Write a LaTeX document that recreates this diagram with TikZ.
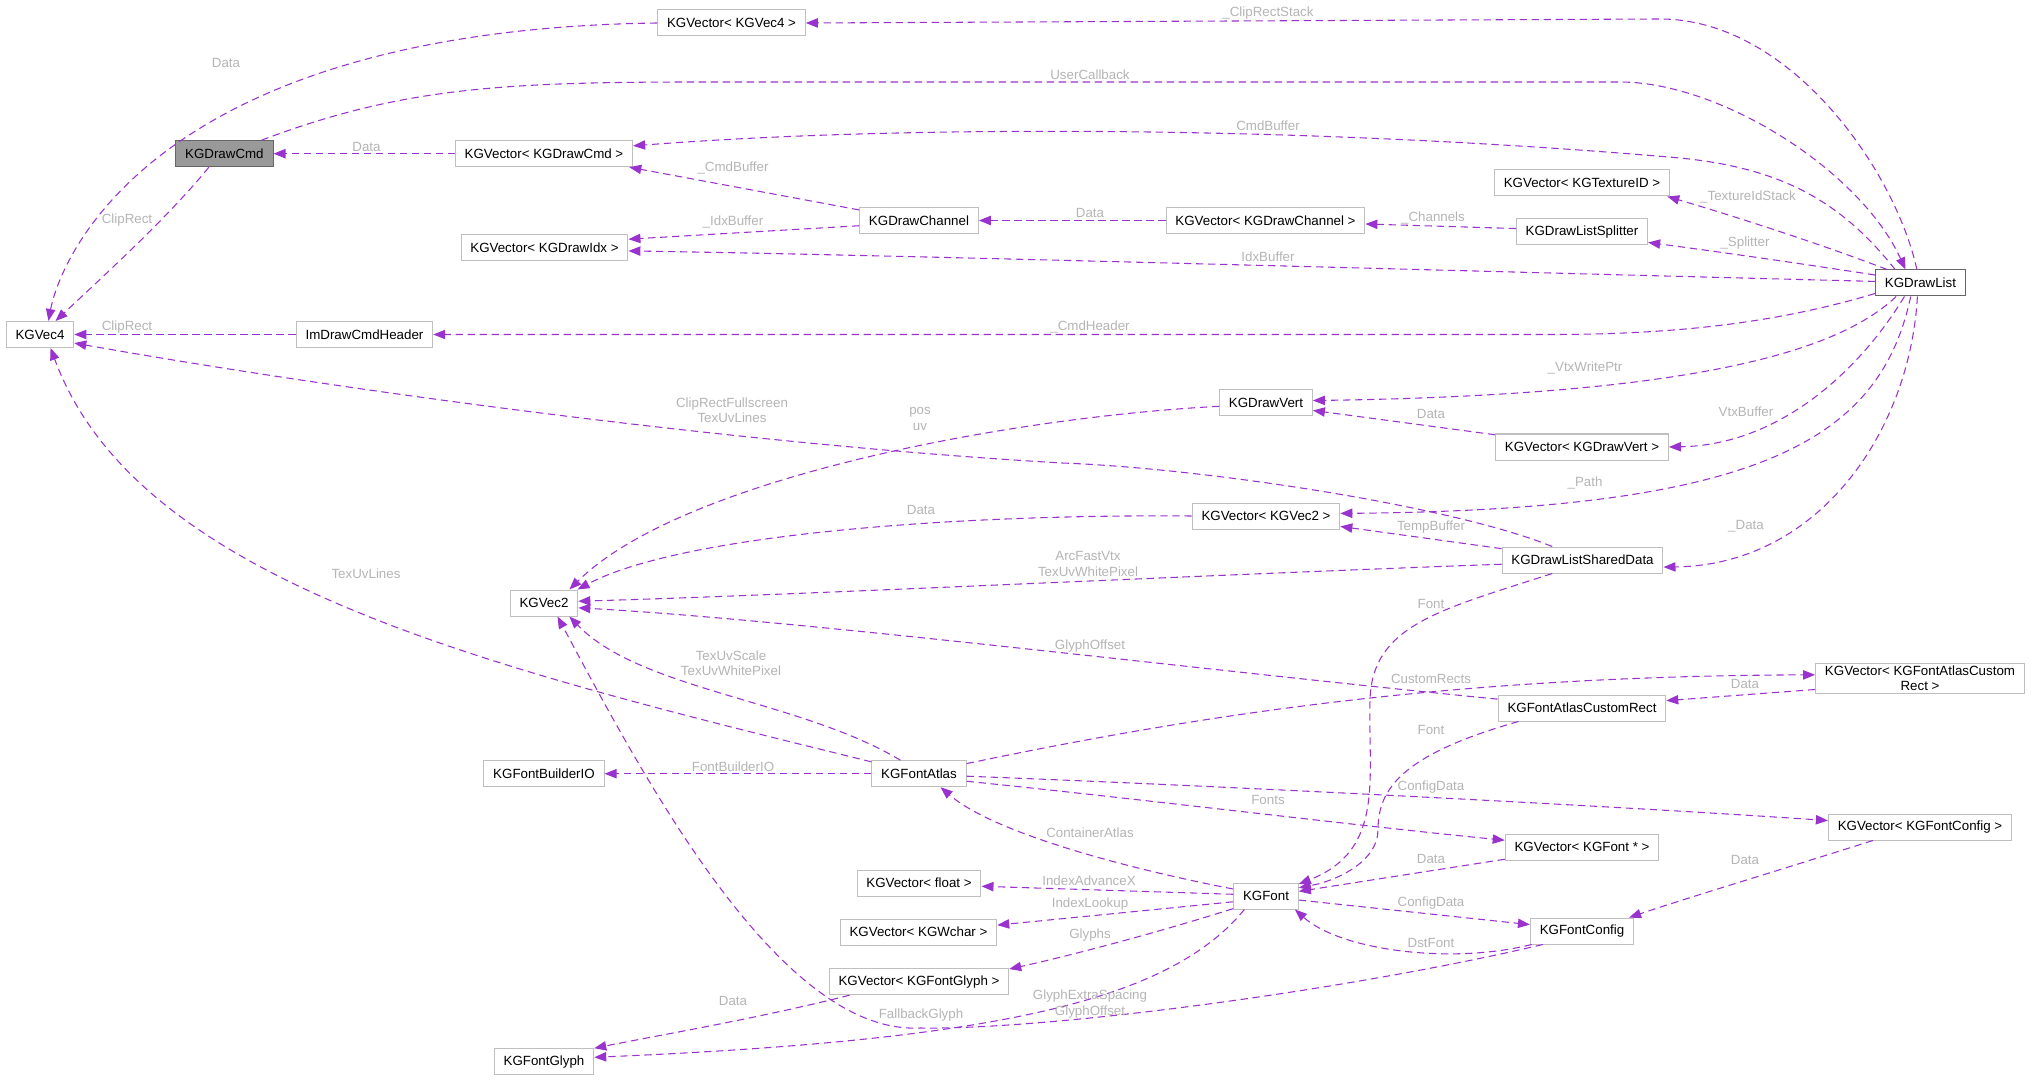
\documentclass[tikz,border=0pt]{standalone}
\usepackage{fontspec}
\setmainfont{Liberation Sans}
\usetikzlibrary{arrows.meta}
\definecolor{edgecol}{HTML}{9A32CD}
\definecolor{lblcol}{HTML}{B4B4B4}
\definecolor{boxcol}{HTML}{BFBFBF}
\definecolor{darkbox}{HTML}{666666}
\definecolor{focusfill}{HTML}{999999}
\tikzstyle{cls} = [rectangle, draw=boxcol, line width=0.75pt, fill=white, minimum height=19.5pt, inner xsep=7pt, inner ysep=2pt, align=center, text=black, font=\fontsize{10}{11.5}\selectfont]
\tikzstyle{focus} = [cls, draw=darkbox, fill=focusfill]
\tikzstyle{owner} = [cls, draw=darkbox]
\tikzstyle{lbl} = [text=lblcol, inner sep=0pt, align=center, font=\fontsize{10}{11.5}\selectfont]
\tikzstyle{uses} = [draw=edgecol, line width=0.8pt, dash pattern=on 5.5pt off 3.5pt, -{Triangle[length=9pt,width=7pt]}]

\begin{document}
\begin{tikzpicture}[x=0.75pt, y=-0.75pt]
    \useasboundingbox (0,0) rectangle (2031,1080);

    % classes
    \node (vecfour) [cls] at (731.5,23) {KGVector< KGVec4 >};
    \node (drawcmd) [focus] at (224.4,153.7) {KGDrawCmd};
    \node (cmdvec) [cls] at (544,153.7) {KGVector< KGDrawCmd >};
    \node (texvec) [cls] at (1582,183) {KGVector< KGTextureID >};
    \node (channel) [cls] at (919,220.5) {KGDrawChannel};
    \node (chanvec) [cls] at (1265.5,220.5) {KGVector< KGDrawChannel >};
    \node (splitter) [cls] at (1582,232) {KGDrawListSplitter};
    \node (idxvec) [cls] at (544.5,248) {KGVector< KGDrawIdx >};
    \node (drawlist) [owner] at (1920.5,283) {KGDrawList};
    \node (vec4) [cls] at (40,334.5) {KGVec4};
    \node (cmdheader) [cls] at (364.5,334.5) {ImDrawCmdHeader};
    \node (drawvert) [cls] at (1266,403) {KGDrawVert};
    \node (vertvec) [cls] at (1582,447) {KGVector< KGDrawVert >};
    \node (vec2vec) [cls] at (1266,516) {KGVector< KGVec2 >};
    \node (shared) [cls] at (1582.5,560) {KGDrawListSharedData};
    \node (vec2) [cls] at (544,603) {KGVec2};
    \node (rectvec) [cls] at (1920,678.5) {KGVector< KGFontAtlasCustom\\Rect >};
    \node (customrect) [cls] at (1582,708) {KGFontAtlasCustomRect};
    \node (builderio) [cls] at (544,773.7) {KGFontBuilderIO};
    \node (atlas) [cls] at (919,773.7) {KGFontAtlas};
    \node (cfgvec) [cls] at (1920,827) {KGVector< KGFontConfig >};
    \node (fontvec) [cls] at (1582,847) {KGVector< KGFont * >};
    \node (floatvec) [cls] at (919,883) {KGVector< float >};
    \node (font) [cls] at (1266,896) {KGFont};
    \node (wcharvec) [cls] at (918.5,932) {KGVector< KGWchar >};
    \node (fontcfg) [cls] at (1582,931) {KGFontConfig};
    \node (glyphvec) [cls] at (919,981.7) {KGVector< KGFontGlyph >};
    \node (glyph) [cls] at (544,1061.7) {KGFontGlyph};

    % KGDrawList members
    \draw [uses] (drawlist.105) .. controls (1895,170) and (1790,19) .. (1660,19) -- (vecfour.east);
    \draw [uses] (drawlist.152) .. controls (1840,200) and (1780,168) .. (1680,158) .. controls (1300,125) and (900,125) .. (cmdvec.5);
    \draw [uses] (drawlist.158) .. controls (1810,240) and (1720,212) .. (texvec.-9);
    \draw [uses] (drawlist.170) .. controls (1790,262) and (1720,252) .. (splitter.-9);
    \draw [uses] (drawlist.178) .. controls (1500,272) and (900,255) .. (idxvec.-2);
    \draw [uses] (drawlist.193) .. controls (1780,322) and (1680,334.5) .. (1550,334.5) -- (cmdheader.east);
    \draw [uses] (drawlist.209) .. controls (1840,350) and (1700,395) .. (drawvert.3);
    \draw [uses] (drawlist.220) .. controls (1860,370) and (1780,445) .. (vertvec.east);
    \draw [uses] (drawlist.234) .. controls (1880,440) and (1760,510) .. (vec2vec.2);
    \draw [uses] (drawlist.257) .. controls (1910,430) and (1820,565) .. (shared.-5);

    % KGDrawCmd members
    \draw [uses] (drawcmd.20) .. controls (400,88) and (500,82) .. (700,82) -- (1620,82) .. controls (1720,82) and (1860,170) .. (drawlist.138);
    \draw [uses] (drawcmd.-139) .. controls (170,215) and (110,270) .. (vec4.41);

    % vector data
    \draw [uses] (vecfour.west) .. controls (150,30) and (60,260) .. (vec4.58);
    \draw [uses] (cmdvec.west) -- (drawcmd.east);
    \draw [uses] (chanvec.west) -- (channel.east);
    \draw [uses] (vertvec.172) -- (drawvert.-9);
    \draw [uses] (vec2vec.west) .. controls (950,514) and (680,535) .. (vec2.22);
    \draw [uses] (rectvec.186) -- (customrect.5);
    \draw [uses] (fontvec.189) -- (font.8);
    \draw [uses] (cfgvec.196) .. controls (1780,870) and (1690,897) .. (fontcfg.16);
    \draw [uses] (glyphvec.191) .. controls (760,1018) and (660,1035) .. (glyph.15);

    % channels, header, vertex
    \draw [uses] (channel.170) -- (cmdvec.-9);
    \draw [uses] (channel.185) -- (idxvec.6);
    \draw [uses] (splitter.177) -- (chanvec.-2);
    \draw [uses] (cmdheader.west) -- (vec4.east);
    \draw [uses] (drawvert.184) .. controls (1000,418) and (680,480) .. (vec2.28);

    % shared data
    \draw [uses] (shared.156) .. controls (1450,505) and (1200,468) .. (1062,463) .. controls (750,445) and (350,392) .. (vec4.-14);
    \draw [uses] (shared.172) -- (vec2vec.-8);
    \draw [uses] (shared.183) .. controls (1200,575) and (800,595) .. (vec2.3);
    \draw [uses] (shared.204) .. controls (1440,610) and (1372,625) .. (1370,700) .. controls (1368,780) and (1385,850) .. (font.20);

    % custom rect
    \draw [uses] (customrect.174) .. controls (1200,670) and (800,620) .. (vec2.-8);
    \draw [uses] (customrect.192) .. controls (1400,755) and (1378,790) .. (1378,830) .. controls (1378,860) and (1340,880) .. (font.14);

    % font atlas
    \draw [uses] (atlas.166) .. controls (482,666) and (137,582) .. (vec4.-52);
    \draw [uses] (atlas.144) .. controls (800,700) and (640,690) .. (vec2.-28);
    \draw [uses] (atlas.12) .. controls (1200,715) and (1450,676) .. (rectvec.178);
    \draw [uses] (atlas.west) -- (builderio.east);
    \draw [uses] (atlas.-3) .. controls (1200,785) and (1600,805) .. (cfgvec.176);
    \draw [uses] (atlas.-9) .. controls (1150,800) and (1350,825) .. (fontvec.175);

    % font
    \draw [uses] (font.168) .. controls (1110,865) and (990,830) .. (atlas.-32);
    \draw [uses] (font.177) -- (floatvec.-3);
    \draw [uses] (font.190) -- (wcharvec.5);
    \draw [uses] (font.201) .. controls (1150,935) and (1060,958) .. (glyphvec.8);
    \draw [uses] (font.-7) -- (fontcfg.173);
    \draw [uses] (font.212) .. controls (1170,1000) and (1000,1040) .. (glyph.5);

    % font config
    \draw [uses] (fontcfg.195) .. controls (1450,965) and (1340,950) .. (font.-25);
    \draw [uses] (fontcfg.199) .. controls (1350,990) and (1050,1030) .. (920,1028) .. controls (780,1035) and (645,780) .. (vec2.-45);

    % edge labels
    \node (lClipRectStack) [lbl] at (1268,13) {\_ClipRectStack};
    \node (lVecFourData) [lbl] at (226,63) {Data};
    \node (lUserCallback) [lbl] at (1090,75) {UserCallback};
    \node (lCmdBuffer) [lbl] at (1268,126) {CmdBuffer};
    \node (lCmdVecData) [lbl] at (366.5,147) {Data};
    \node (lClipRectCmd) [lbl] at (127,220) {ClipRect};
    \node (lChanCmdBuffer) [lbl] at (733,168) {\_CmdBuffer};
    \node (lChanIdxBuffer) [lbl] at (733,222) {\_IdxBuffer};
    \node (lChanVecData) [lbl] at (1090,213) {Data};
    \node (lChannels) [lbl] at (1433,218) {\_Channels};
    \node (lTextureIdStack) [lbl] at (1748,197) {\_TextureIdStack};
    \node (lSplitter) [lbl] at (1745,243) {\_Splitter};
    \node (lIdxBuffer) [lbl] at (1268,257) {IdxBuffer};
    \node (lCmdHeader) [lbl] at (1090,327) {\_CmdHeader};
    \node (lClipRectHeader) [lbl] at (127,327) {ClipRect};
    \node (lClipFull) [lbl] at (732,410) {ClipRectFullscreen\\TexUvLines};
    \node (lTexUvLines) [lbl] at (366,574) {TexUvLines};
    \node (lVtxWritePtr) [lbl] at (1585,368) {\_VtxWritePtr};
    \node (lVtxBuffer) [lbl] at (1746,412) {VtxBuffer};
    \node (lVertVecData) [lbl] at (1431,414) {Data};
    \node (lPosUv) [lbl] at (920,419) {pos\\uv};
    \node (lPath) [lbl] at (1585,483) {\_Path};
    \node (lTempBuffer) [lbl] at (1431,527) {TempBuffer};
    \node (lVecTwoData) [lbl] at (921,510) {Data};
    \node (lSharedData) [lbl] at (1746,526) {\_Data};
    \node (lArcFastVtx) [lbl] at (1088,564) {ArcFastVtx\\TexUvWhitePixel};
    \node (lGlyphOffset) [lbl] at (1090,646) {GlyphOffset};
    \node (lTexUvScale) [lbl] at (731,663) {TexUvScale\\TexUvWhitePixel};
    \node (lCustomRects) [lbl] at (1431,679) {CustomRects};
    \node (lRectVecData) [lbl] at (1745,684) {Data};
    \node (lSharedFont) [lbl] at (1431,604) {Font};
    \node (lRectFont) [lbl] at (1431,730) {Font};
    \node (lFontBuilderIO) [lbl] at (733,767) {FontBuilderIO};
    \node (lAtlasConfigData) [lbl] at (1431,787) {ConfigData};
    \node (lFonts) [lbl] at (1268,800) {Fonts};
    \node (lContainerAtlas) [lbl] at (1090,833) {ContainerAtlas};
    \node (lFontVecData) [lbl] at (1431,859) {Data};
    \node (lIndexAdvanceX) [lbl] at (1089,881) {IndexAdvanceX};
    \node (lIndexLookup) [lbl] at (1090,904) {IndexLookup};
    \node (lGlyphs) [lbl] at (1090,935) {Glyphs};
    \node (lFontConfigData) [lbl] at (1431,903) {ConfigData};
    \node (lDstFont) [lbl] at (1431,943) {DstFont};
    \node (lCfgVecData) [lbl] at (1745,860) {Data};
    \node (lGlyphVecData) [lbl] at (733,1001) {Data};
    \node (lFallbackGlyph) [lbl] at (921,1015) {FallbackGlyph};
    \node (lGlyphExtra) [lbl] at (1090,1004) {GlyphExtraSpacing\\GlyphOffset};
\end{tikzpicture}
\end{document}
